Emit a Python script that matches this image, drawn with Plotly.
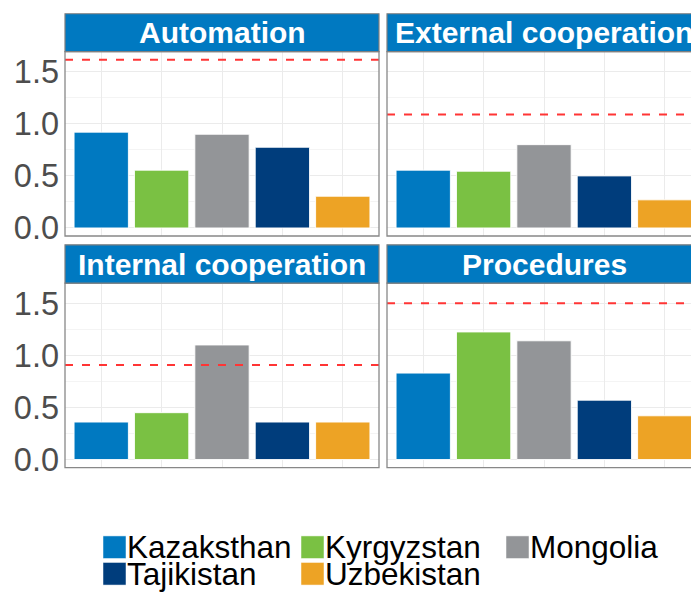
import plotly.graph_objects as go

# Countries, facet titles and scores
countries = ["Kazakhstan", "Kyrgyzstan", "Mongolia", "Tajikistan", "Uzbekistan"]
legend_labels = ["Kazaksthan", "Kyrgyzstan", "Mongolia", "Tajikistan", "Uzbekistan"]
colors = ["#0079C1", "#7AC143", "#939598", "#003D7C", "#EDA325"]

facets = ["Automation", "External cooperation", "Internal cooperation", "Procedures"]

automation = [0.92, 0.555, 0.90, 0.775, 0.305]
external_cooperation = [0.555, 0.545, 0.80, 0.50, 0.27]
internal_cooperation = [0.36, 0.45, 1.10, 0.36, 0.36]
procedures = [0.83, 1.225, 1.14, 0.57, 0.42]

# Reference level drawn as a dashed red line in each facet
thresholds = [1.615, 1.09, 0.908, 1.50]

y_ticks = [0.0, 0.5, 1.0, 1.5]

values = [automation, external_cooperation, internal_cooperation, procedures]

W, H = 691, 599


def px_x(p):
    return p / W


def px_y(p):
    return 1 - p / H


# Panel geometry in pixels: (left, right, strip top, plot top, plot bottom)
panels = [
    (65, 379, 14, 52.5, 240),
    (387, 701, 14, 52.5, 240),
    (65, 379, 249, 288, 475.5),
    (387, 701, 249, 288, 475.5),
]

fig = go.Figure()
shapes = []
annotations = []

FONT = "Liberation Sans, Arial, sans-serif"

for i, (name, vals, thr) in enumerate(zip(facets, values, thresholds)):
    ax = "" if i == 0 else str(i + 1)
    for c, v, col in zip(countries, vals, colors):
        fig.add_trace(go.Bar(
            x=[c], y=[v], xaxis="x" + ax, yaxis="y" + ax,
            marker=dict(color=col, line=dict(color="rgba(255,255,255,0.9)", width=1)),
            width=0.9, showlegend=False, name=c,
        ))

    left, right, stop, ptop, pbot = panels[i]
    dom_right = min(right, W)
    # visible part of the category scale (60.4 px per category)
    unit = (right - left) / 5.2
    x_hi = -0.6 + (dom_right - left) / unit

    fig.layout["xaxis" + ax] = dict(
        domain=[px_x(left), px_x(dom_right)], anchor="y" + ax,
        range=[-0.6, x_hi], type="category", categoryorder="array",
        categoryarray=countries, showticklabels=False, ticks="",
        showgrid=True, gridcolor="#EBEBEB", gridwidth=1.2,
        zeroline=False, showline=False, fixedrange=True,
    )
    fig.layout["yaxis" + ax] = dict(
        domain=[px_y(pbot), px_y(ptop)], anchor="x" + ax,
        range=[-0.077, 1.693], tickvals=y_ticks, tickformat=".1f",
        showticklabels=(i % 2 == 0), ticks="", ticklabelstandoff=5,
        tickfont=dict(family=FONT, size=32.5, color="#4D4D4D"),
        showgrid=True, gridcolor="#EBEBEB", gridwidth=1.2,
        minor=dict(dtick=0.25, tick0=0, showgrid=True, gridcolor="#F4F4F4", gridwidth=1),
        zeroline=False, showline=False, fixedrange=True,
    )

    # dashed reference line
    shapes.append(dict(
        type="line", xref="x" + ax + " domain", yref="y" + ax,
        x0=0, x1=1, y0=thr, y1=thr, layer="above",
        line=dict(color="#FF3535", width=2, dash="8px,9px"),
    ))
    # panel border
    shapes.append(dict(
        type="rect", xref="paper", yref="paper",
        x0=px_x(left), x1=px_x(right), y0=px_y(pbot), y1=px_y(ptop),
        line=dict(color="#888888", width=1.3), fillcolor="rgba(0,0,0,0)", layer="above",
    ))
    # facet strip
    shapes.append(dict(
        type="rect", xref="paper", yref="paper",
        x0=px_x(left), x1=px_x(right), y0=px_y(ptop), y1=px_y(stop),
        line=dict(color="#7F7F7F", width=1.2), fillcolor="#0079C1", layer="above",
    ))
    annotations.append(dict(
        text="<b>%s</b>" % name, xref="paper", yref="paper",
        x=px_x((left + right) / 2), y=px_y((stop + ptop) / 2),
        xanchor="center", yanchor="middle", showarrow=False,
        font=dict(family=FONT, size=30, color="white"),
    ))

# Legend drawn as colour keys with labels, three columns
key_cols = [103, 301, 506]
key_rows = [545, 572]
key_size = 23
order = [(0, 0), (0, 1), (0, 2), (1, 0), (1, 1)]
for (r, c), lab, col in zip(order, legend_labels, colors):
    x0 = key_cols[c]
    y0 = key_rows[r]
    shapes.append(dict(
        type="rect", xref="paper", yref="paper",
        x0=px_x(x0), x1=px_x(x0 + key_size), y0=px_y(y0 + key_size), y1=px_y(y0),
        line=dict(color="white", width=0.5), fillcolor=col,
    ))
    annotations.append(dict(
        text=lab, xref="paper", yref="paper",
        x=px_x(x0 + key_size), y=px_y(y0 + key_size / 2),
        xanchor="left", yanchor="middle", showarrow=False, borderpad=0,
        font=dict(family=FONT, size=31.5, color="black"),
    ))

fig.update_layout(
    width=W, height=H,
    margin=dict(l=0, r=0, t=0, b=0),
    paper_bgcolor="white", plot_bgcolor="white",
    bargap=0.1, showlegend=False,
    shapes=shapes, annotations=annotations,
)

fig.write_html("out.html")
